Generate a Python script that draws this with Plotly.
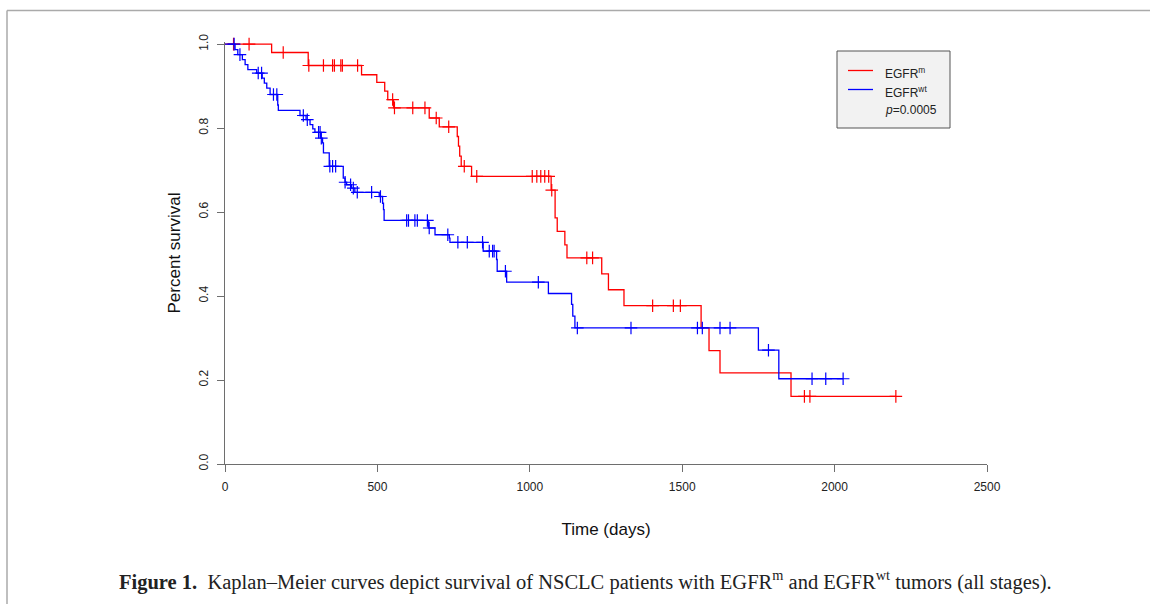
import plotly.graph_objects as go

# ---------------- data ----------------
# EGFR mutant (red): event times (days) and survival after each event
egfr_m_days = [153, 273, 448, 498, 524, 534, 553, 670, 703, 762, 766, 770, 775, 809,
               1070, 1083, 1090, 1115, 1122, 1236, 1258, 1309, 1562, 1588, 1624, 1857]
egfr_m_surv = [0.980, 0.949, 0.927, 0.909, 0.888, 0.868, 0.848, 0.824, 0.803, 0.780, 0.757,
               0.733, 0.709, 0.685, 0.652, 0.586, 0.554, 0.522, 0.491, 0.453, 0.415, 0.377,
               0.324, 0.270, 0.217, 0.161]
egfr_m_censor = [28, 79, 191, 275, 323, 353, 359, 380, 385, 435, 550, 556, 616, 656, 693,
                 734, 785, 826, 1008, 1023, 1036, 1049, 1062, 1072, 1187, 1206, 1403, 1471,
                 1494, 1901, 1919, 2201]

# EGFR wild type (blue)
egfr_wt_days = [33, 42, 57, 66, 75, 104, 122, 129, 137, 148, 173, 175, 246, 266, 279, 288,
                295, 314, 320, 323, 342, 388, 394, 399, 415, 426, 506, 517, 520, 522, 667,
                689, 736, 738, 847, 891, 893, 924, 1061, 1137, 1141, 1148, 1750, 1817]
egfr_wt_surv = [0.987, 0.975, 0.963, 0.951, 0.939, 0.931, 0.919, 0.907, 0.895, 0.880, 0.855,
                0.842, 0.830, 0.820, 0.808, 0.798, 0.790, 0.776, 0.765, 0.741, 0.709, 0.681,
                0.671, 0.665, 0.657, 0.647, 0.637, 0.621, 0.606, 0.580, 0.562, 0.546, 0.538,
                0.528, 0.507, 0.487, 0.459, 0.433, 0.406, 0.380, 0.352, 0.324, 0.271, 0.203]
egfr_wt_censor = [30, 49, 109, 120, 159, 170, 257, 270, 307, 312, 316, 344, 353, 363, 394,
                  412, 421, 434, 481, 510, 596, 602, 623, 631, 664, 670, 731, 764, 795, 845,
                  867, 878, 883, 920, 1028, 1156, 1332, 1550, 1566, 1624, 1657, 1783, 1926,
                  1971, 2028]

x_ticks = [0, 500, 1000, 1500, 2000, 2500]
y_ticks = [0.0, 0.2, 0.4, 0.6, 0.8, 1.0]
series_names = ["EGFR<sup>m</sup>", "EGFR<sup>wt</sup>"]
p_value_text = "<i>p</i>=0.0005"
caption = ("<b>Figure 1.</b>  Kaplan–Meier curves depict survival of NSCLC patients with "
           "EGFR<sup>m</sup> and EGFR<sup>wt</sup> tumors (all stages).")

RED = "#ff0000"
BLUE = "#0000ff"


def km_path(days, surv, censor):
    xs = [0] + list(days)
    ys = [1.0] + list(surv)
    end = max(censor)
    if end > xs[-1]:
        xs.append(end)
        ys.append(ys[-1])
    return xs, ys


def surv_at(days, surv, t):
    s = 1.0
    for d, v in zip(days, surv):
        if d <= t:
            s = v
    return s


fig = go.Figure()
for name, days, surv, cens, col in [
    (series_names[0], egfr_m_days, egfr_m_surv, egfr_m_censor, RED),
    (series_names[1], egfr_wt_days, egfr_wt_surv, egfr_wt_censor, BLUE),
]:
    xs, ys = km_path(days, surv, cens)
    fig.add_trace(go.Scatter(x=xs, y=ys, mode="lines", line=dict(color=col, width=1.3, shape="hv"),
                             name=name, hoverinfo="skip", showlegend=False))
    fig.add_trace(go.Scatter(x=cens, y=[surv_at(days, surv, t) for t in cens], mode="markers",
                             marker=dict(symbol="cross-thin", size=9, color=col,
                                         line=dict(color=col, width=1.2)),
                             showlegend=False, cliponaxis=False, hoverinfo="skip"))

W, H = 1150, 604
L, R, T, B = 225, 987, 42, 464


def px(x):
    return (x - L) / (R - L)


def py(y):
    return (B - y) / (B - T)


axis_col = "#6e6e6e"
fig.update_layout(
    width=W, height=H,
    margin=dict(l=L, r=W - R, t=T, b=H - B, autoexpand=False),
    paper_bgcolor="white", plot_bgcolor="white",
    font=dict(family="Liberation Sans, Arial, sans-serif", size=12, color="#222"),
    xaxis=dict(range=[0, 2500], tickvals=x_ticks, ticktext=[str(v) for v in x_ticks],
               showgrid=False, zeroline=False, showline=True, linecolor=axis_col, linewidth=1.3,
               ticks="outside", ticklen=7, tickcolor=axis_col, tickwidth=1.3,
               ticklabelstandoff=4, automargin=False,
               title=dict(text="Time (days)", font=dict(size=17, color="#111"), standoff=30)),
    yaxis=dict(range=[0, 1.005], tickvals=y_ticks, ticktext=[f"{v:.1f}" for v in y_ticks],
               tickangle=-90, showgrid=False, zeroline=False, showline=True, linecolor=axis_col,
               linewidth=1.3, ticks="outside", ticklen=7, tickcolor=axis_col, tickwidth=1.3,
               ticklabelstandoff=4, automargin=False,
               title=dict(text="Percent survival", font=dict(size=17, color="#111"), standoff=12)),
    showlegend=False,
)

# legend box (drawn manually, R-style)
fig.add_shape(type="rect", xref="paper", yref="paper", x0=px(837), x1=px(950), y0=py(128), y1=py(51),
              fillcolor="#f2f2f2", line=dict(color="#555555", width=1))
for i, (nm, col) in enumerate(zip(series_names, [RED, BLUE])):
    ly = 70.5 + 19 * i
    fig.add_shape(type="line", xref="paper", yref="paper", x0=px(848), x1=px(873), y0=py(ly), y1=py(ly),
                  line=dict(color=col, width=1.3))
    fig.add_annotation(text=nm, xref="paper", yref="paper", x=px(883), y=py(ly + 2.5),
                       xanchor="left", yanchor="middle", showarrow=False,
                       font=dict(size=12, color="#222"))
fig.add_annotation(text=p_value_text, xref="paper", yref="paper", x=px(883), y=py(110),
                   xanchor="left", yanchor="middle", showarrow=False,
                   font=dict(size=12, color="#222"))

# page frame lines
fig.add_shape(type="line", xref="paper", yref="paper", x0=px(7), x1=px(1150), y0=py(10.5), y1=py(10.5),
              line=dict(color="#aaaaaa", width=1.5))
fig.add_shape(type="line", xref="paper", yref="paper", x0=px(7), x1=px(7), y0=py(10.5), y1=py(604),
              line=dict(color="#aaaaaa", width=1.5))

fig.add_annotation(text=caption, xref="paper", yref="paper", x=px(585), y=py(580),
                   xanchor="center", yanchor="middle", showarrow=False,
                   font=dict(family="Liberation Serif, Times New Roman, serif", size=20.5, color="#222"))

fig.write_html("out.html")
